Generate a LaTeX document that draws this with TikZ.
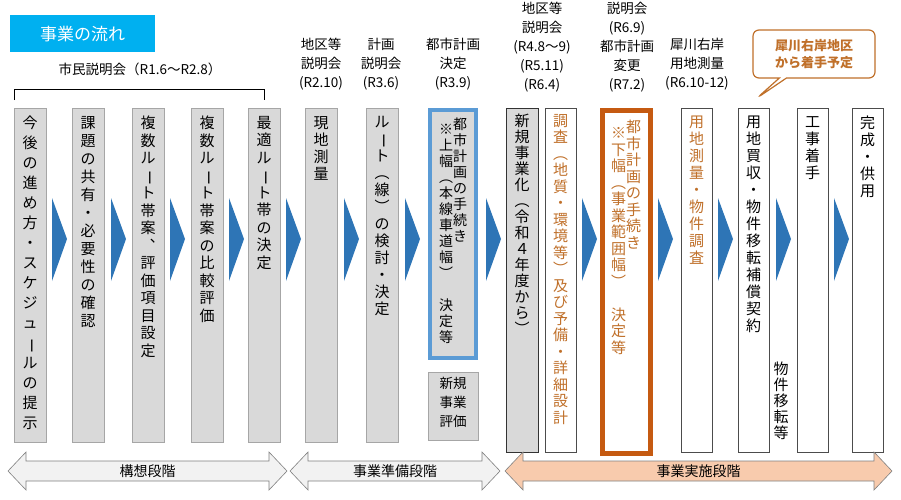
\documentclass[tikz,border=0pt]{standalone}
\usepackage{fontspec}
\setmainfont{Noto Sans CJK JP}
\newfontfamily\jp{Noto Sans CJK JP}
\definecolor{gfill}{HTML}{D9D9D9}
\definecolor{gline}{HTML}{A6A6A6}
\definecolor{blu}{HTML}{2E75B6}
\definecolor{lblu}{HTML}{5B9BD5}
\definecolor{org}{HTML}{C55A11}
\definecolor{otext}{HTML}{C0702A}
\definecolor{cyan1}{HTML}{00B0F0}
\definecolor{peach}{HTML}{F8CBAD}
\usetikzlibrary{shapes.callouts}
\def\VB{\rotatebox[origin=c]{-90}{ー}}
\def\VT{\rotatebox[origin=c]{-90}{～}}
\def\vsA#1{\ifx\relax#1\else\hbox to 1em{\hss#1\hss}\expandafter\vsA\fi}
\newcommand\vs[2][17pt]{\vtop{\baselineskip=#1\lineskiplimit=-10pt\vsA#2\relax}}
\begin{document}
\begin{tikzpicture}[x=1pt,y=-1pt,
  graybox/.style={draw=gline,fill=gfill,line width=0.8pt},
  whitebox/.style={draw=black!70,fill=white,line width=0.6pt},
  vtext/.style={anchor=north,inner sep=0pt,font=\jp\fontsize{15}{17}\selectfont},
  hdr/.style={font=\jp\fontsize{13.5}{19}\selectfont,align=center,anchor=north,inner sep=0pt},
  stagearrow/.style={draw=gray,line width=0.6pt},
  stage/.style={font=\jp\fontsize{14}{16}\selectfont}]
\useasboundingbox (0,0) rectangle (901,499);
% title
\node[fill=cyan1,text=white,font=\jp\fontsize{17}{20}\selectfont,minimum width=145pt,minimum height=37pt,anchor=north west,inner sep=0pt] (title) at (10,15) {事業の流れ};
% bracket
\draw[line width=0.8pt] (14,100) -- (14,89) -- (264,89) -- (264,100);
\node[hdr] (h0) at (140,63) {市民説明会（R1.6～R2.8）};
% headers
\node[hdr] (h1) at (321,38) {地区等\\説明会\\(R2.10)};
\node[hdr] (h2) at (381,38) {計画\\説明会\\(R3.6)};
\node[hdr] (h3) at (453,38) {都市計画\\決定\\(R3.9)};
\node[hdr] (h4) at (542,2) {地区等\\説明会\\(R4.8～9)\\(R5.11)\\(R6.4)};
\node[hdr] (h5) at (627,2) {説明会\\(R6.9)\\都市計画\\変更\\(R7.2)};
\node[hdr] (h6) at (697,38) {犀川右岸\\用地測量\\(R6.10-12)};
% callout
\node[rectangle callout,rounded corners=6pt,draw=otext,line width=1.2pt,fill=white,text=otext,
  font=\jp\bfseries\fontsize{13}{17}\selectfont,align=center,minimum width=122pt,minimum height=48pt,
  callout absolute pointer={(757,98)}] (call) at (814,54) {犀川右岸地区\\から着手予定};
% columns
\draw[graybox] (14,108) rectangle (46,442);
\node[vtext] (t1) at (30,116) {\vs[20pt]{今後の進め方・スケジュ\VB ルの提示}};
\draw[graybox] (72,108) rectangle (104,442);
\node[vtext] (t2) at (88,116) {\vs[18pt]{課題の共有・必要性の確認}};
\draw[graybox] (132,108) rectangle (164,442);
\node[vtext] (t3) at (148,116) {\vs[17.5pt]{複数ル\VB ト帯案︑評価項目設定}};
\draw[graybox] (191,108) rectangle (223,442);
\node[vtext] (t4) at (207,116) {\vs[17.5pt]{複数ル\VB ト帯案の比較評価}};
\draw[graybox] (248,108) rectangle (280,442);
\node[vtext] (t5) at (264,116) {\vs[17.5pt]{最適ル\VB ト帯の決定}};
\draw[graybox] (305,108) rectangle (337,442);
\node[vtext] (t6) at (321,116) {\vs{現地測量}};
\draw[graybox] (366,108) rectangle (398,442);
\node[vtext] (t7) at (382,116) {\vs{ル\VB ト︵線︶の検討・決定}};
\draw[fill=gfill,draw=lblu,line width=4pt] (430,110) rectangle (476,358);
\node[vtext,font=\jp\fontsize{14}{16}\selectfont] (t8) at (453,118) {\raisebox{-5pt}{\vs[16pt]{※上幅︵本線車道幅︶\ 決定等}}\vs[16pt]{都市計画の手続き}};
\draw[graybox] (428,372) rectangle (478,440);
\node[hdr] (t8b) at (453,377) {新規\\事業\\評価};
\draw[fill=gfill,draw=black!80,line width=0.8pt] (506,108) rectangle (538,452);
\node[vtext] (t9) at (522,114) {\vs[16pt]{新規事業化︵令和４年度から︶}};
\draw[whitebox] (545,108) rectangle (576,452);
\node[vtext,text=otext] (t10) at (560.5,114) {\vs[16.5pt]{調査︵地質・環境等︶及び予備・詳細設計}};
\draw[draw=org,fill=white,line width=5pt] (602,110) rectangle (650,453);
\node[vtext,text=otext] (t11) at (626,120) {\raisebox{-6pt}{\vs[16.5pt]{※下幅︵事業範囲幅︶\ 決定等}}\vs[16.5pt]{都市計画の手続き}};
\draw[whitebox] (681,108) rectangle (712,452);
\node[vtext,text=otext] (t12) at (696.5,116) {\vs[17pt]{用地測量・物件調査}};
\draw[whitebox] (738,108) rectangle (769,452);
\node[vtext] (t13) at (753.5,116) {\vs[17pt]{用地買収・物件移転補償契約}};
\node[vtext] (t13b) at (781,362) {\vs[16pt]{物件移転等}};
\draw[whitebox] (797,108) rectangle (828,452);
\node[vtext] (t14) at (812.5,116) {\vs[17pt]{工事着手}};
\draw[whitebox] (852,108) rectangle (883,452);
\node[vtext] (t15) at (867.5,116) {\vs[17pt]{完成・供用}};
% triangles
\foreach \x in {52,111,170,229,286,344,405,486,582,658,718,776,834}
  \fill[blu] (\x,198) -- (\x+15,239) -- (\x,281) -- cycle;
% stages
\draw[stagearrow,fill=gray!10] (8,471) -- (26,452) -- (26,461) -- (269,461) -- (269,452) -- (287,471) -- (269,490) -- (269,481) -- (26,481) -- (26,490) -- cycle;
\node[stage] (s1t) at (147.5,471) {構想段階};
\draw[stagearrow,fill=gray!10] (290,471) -- (308,452) -- (308,461) -- (482,461) -- (482,452) -- (500,471) -- (482,490) -- (482,481) -- (308,481) -- (308,490) -- cycle;
\node[stage] (s2t) at (395,471) {事業準備段階};
\draw[stagearrow,fill=peach] (505,471) -- (523,452) -- (523,461) -- (874,461) -- (874,452) -- (892,471) -- (874,490) -- (874,481) -- (523,481) -- (523,490) -- cycle;
\node[stage] (s3t) at (698.5,471) {事業実施段階};
\end{tikzpicture}
\end{document}
